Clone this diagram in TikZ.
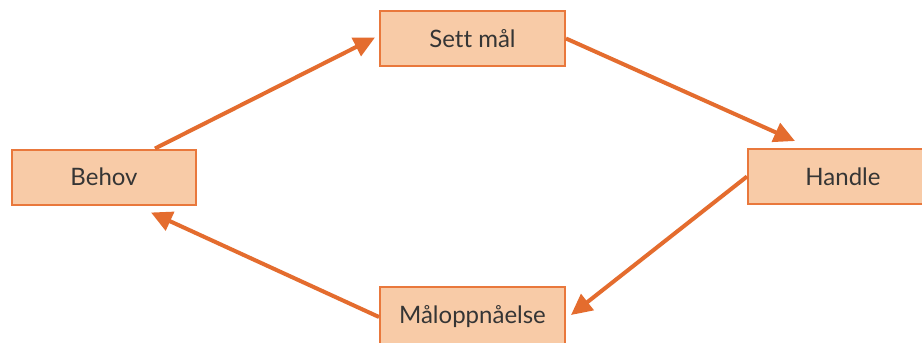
\documentclass[tikz,border=0pt]{standalone}
\usepackage{fontspec}
\setmainfont{Lato}[Ligatures=NoCommon]
\usetikzlibrary{arrows.meta}
\definecolor{boxfill}{HTML}{F8CBA7}
\definecolor{boxline}{HTML}{E9783C}
\definecolor{arrowcol}{HTML}{E46C2E}
\definecolor{txt}{HTML}{353535}
\begin{document}
\begin{tikzpicture}[x=1pt,y=-1pt,
  stepbox/.style={draw=boxline,line width=2pt,fill=boxfill,minimum height=55pt,
    inner sep=0pt,font=\fontsize{24}{28}\selectfont,text=txt},
  conn/.style={draw=arrowcol,line width=4pt,-{Triangle[length=21pt,width=20pt]}}]
\useasboundingbox (0,0) rectangle (922,343);
\fill[white] (0,0) rectangle (922,343);
\clip (0,0) rectangle (922,343);
\node[stepbox,minimum width=185pt] (sett) at (472.5,38.5) {Sett mål};
\node[stepbox,minimum width=184pt] (behov) at (104,177) {Behov};
\node[stepbox,minimum width=190pt] (handle) at (843,176.5) {Handle};
\node[stepbox,minimum width=185pt,minimum height=60pt] (mal) at (472.5,317) {Måloppnåelse};
\draw[conn] ([xshift=51pt]behov.north) -- ([xshift=-4pt,yshift=1pt]sett.west);
\draw[conn] (sett.east) -- ([xshift=-48pt,yshift=7pt]handle.north);
\draw[conn] (handle.west) -- ([xshift=5pt,yshift=2pt]mal.east);
\draw[conn] (mal.west) -- ([xshift=47pt,yshift=-7pt]behov.south);
\end{tikzpicture}
\end{document}
